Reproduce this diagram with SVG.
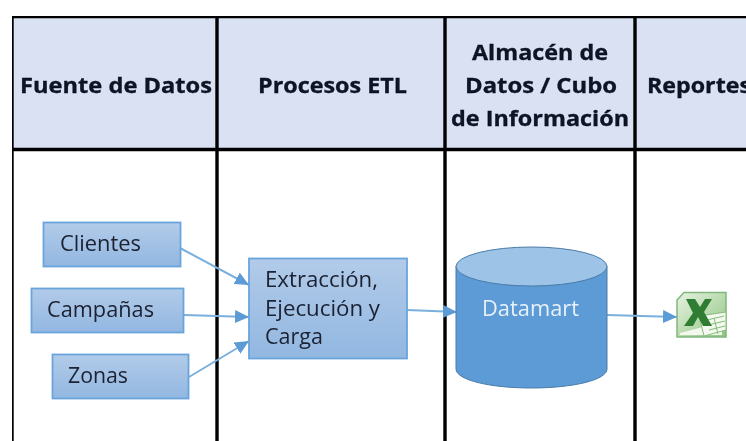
<svg xmlns="http://www.w3.org/2000/svg" width="746" height="441" viewBox="0 0 746 441">
<style>
text{font-family:"Open Sans","Noto Sans",sans-serif}
.h{font-size:21px;font-weight:700;fill:#0c1224;stroke:#0c1224;stroke-width:.3}
.t{font-size:21px;fill:#1a2030}
.grid{stroke:#000;stroke-width:3.4;fill:none}
.box{fill:url(#g);stroke:#69a5dc;stroke-width:1.8}
.c{stroke:#7ab0dd;stroke-width:2;fill:none;marker-end:url(#a)}
#all{filter:url(#b)}
</style>
<defs>
<filter id="b" x="0" y="0" width="100%" height="100%"><feGaussianBlur stdDeviation="0.4"/></filter>
<linearGradient id="g" x1="0" y1="0" x2="0" y2="1"><stop offset="0" stop-color="#b2cbe9"/><stop offset="1" stop-color="#92b7e1"/></linearGradient>
<linearGradient id="xl" x1="0" y1="0" x2="1" y2="1"><stop offset="0" stop-color="#e9f3e2"/><stop offset="1" stop-color="#8cc47f"/></linearGradient>
<marker id="a" markerUnits="userSpaceOnUse" markerWidth="15" markerHeight="14" refX="14" refY="6.5" orient="auto"><path d="M0 0L14 6.5L0 13z" fill="#5b9bd5"/></marker>
</defs>
<g id="all">
<g id="table">
<rect x="12" y="16.5" width="740" height="133" fill="#d9e1f2"/>
<path class="grid" d="M12 441V16.500H746M12 149.500H746M217 16.500V441M445 16.500V441M635 16.500V441"/>
</g>
<g id="headers">
<text class="h" x="20" y="93" textLength="192" lengthAdjust="spacingAndGlyphs">Fuente de Datos</text>
<text class="h" x="258" y="93" textLength="149" lengthAdjust="spacingAndGlyphs">Procesos ETL</text>
<text class="h" x="472" y="60" textLength="136" lengthAdjust="spacingAndGlyphs">Almacén de</text>
<text class="h" x="465" y="93" textLength="152" lengthAdjust="spacingAndGlyphs">Datos / Cubo</text>
<text class="h" x="451" y="126" textLength="178" lengthAdjust="spacingAndGlyphs">de Información</text>
<text class="h" x="647" y="93" textLength="104" lengthAdjust="spacingAndGlyphs">Reportes</text>
</g>
<g id="connectors">
<path class="c" d="M180 248L249 285"/>
<path class="c" d="M184 315L249 317"/>
<path class="c" d="M189 377L249 341"/>
<path class="c" d="M407 310L457 312"/>
<path class="c" d="M607 315L677 317"/>
</g>
<g id="clientes"><rect class="box" x="43.500" y="222.500" width="137" height="44"/><text class="t" x="60" y="251" textLength="81" lengthAdjust="spacingAndGlyphs">Clientes</text></g>
<g id="campanas"><rect class="box" x="31.500" y="288.500" width="152" height="44"/><text class="t" x="47" y="317" textLength="107" lengthAdjust="spacingAndGlyphs">Campañas</text></g>
<g id="zonas"><rect class="box" x="52.500" y="354.500" width="136" height="44"/><text class="t" x="68" y="383" textLength="60" lengthAdjust="spacingAndGlyphs">Zonas</text></g>
<g id="etl"><rect class="box" x="249" y="258.500" width="158" height="100"/>
<text class="t" x="265" y="287" textLength="113" lengthAdjust="spacingAndGlyphs">Extracción,</text><text class="t" x="265" y="316" textLength="115" lengthAdjust="spacingAndGlyphs">Ejecución y</text><text class="t" x="265" y="344" textLength="58" lengthAdjust="spacingAndGlyphs">Carga</text></g>
<g id="datamart">
<path d="M456 266V369C456 380 490 388 531.500 388S607 380 607 369V266z" fill="#5b9bd5" stroke="#4a7ba8" stroke-width="1"/>
<ellipse cx="531.500" cy="266.500" rx="75.500" ry="19.500" fill="#9dc3e6" stroke="#4a7ba8" stroke-width="1"/>
<text x="482" y="316" font-size="21" fill="#e8f1fa" textLength="97" lengthAdjust="spacingAndGlyphs">Datamart</text>
</g>
<g id="excel">
<path d="M684 292.500H726V337H677V300z" fill="url(#xl)" stroke="#7fb77e" stroke-width="1.500"/>
<path d="M680 333L722 322V335H680z" fill="#f2f8ee"/>
<path d="M699 316L726 312V330L704 336z" fill="#f4f9f0" stroke="#86bc7d" stroke-width="1"/>
<path d="M707 320L724 316M708 325L725 321M709 330L725 326M714 318L718 334" stroke="#86bc7d" stroke-width="1" fill="none"/>
<path d="M686 299H695L700 307L705 299H712L704 312L712 326H703L698 317L693 326H684L693 313z" fill="#2f7d32"/>
</g>
</g>
</svg>
